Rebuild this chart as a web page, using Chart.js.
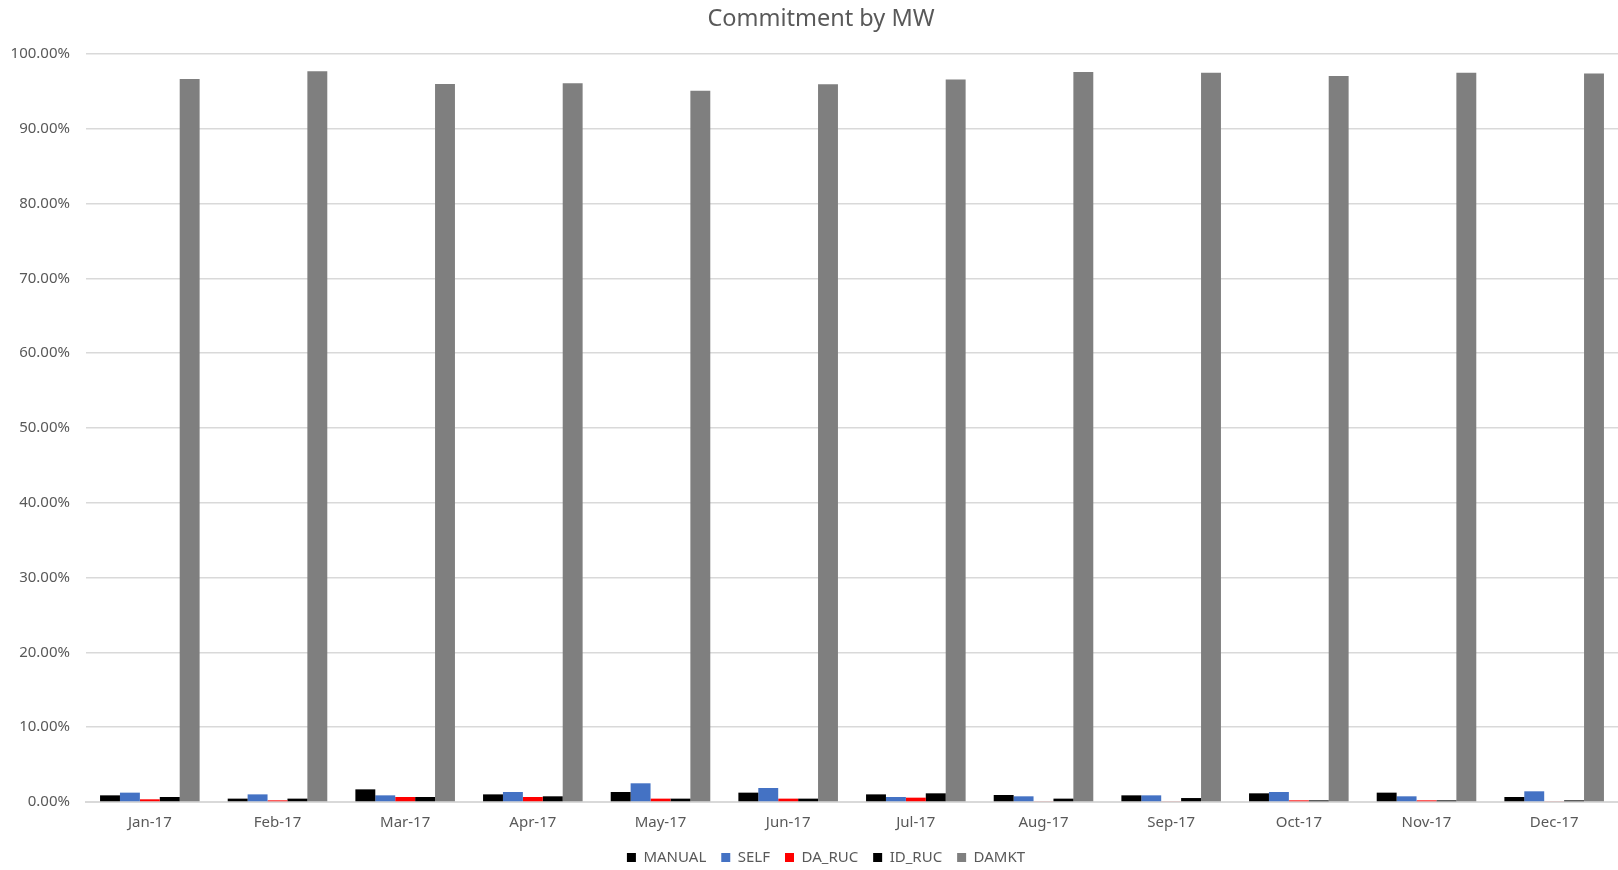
<!DOCTYPE html>
<html>
<head>
<meta charset="utf-8">
<script src="https://cdn.jsdelivr.net/npm/chart.js@4"></script>
<style>
html,body{margin:0;padding:0;background:#fff;}
#wrap{position:relative;width:1618px;height:870px;}
</style>
</head>
<body>
<div id="wrap"><canvas id="c"></canvas></div>
<script>
const months = ['Jan-17','Feb-17','Mar-17','Apr-17','May-17','Jun-17','Jul-17','Aug-17','Sep-17','Oct-17','Nov-17','Dec-17'];
const manual = [0.89,0.45,1.69,1.02,1.34,1.25,1.02,0.94,0.89,1.16,1.25,0.67];
const self   = [1.25,1.02,0.89,1.34,2.50,1.87,0.67,0.76,0.89,1.34,0.76,1.43];
const daRuc  = [0.36,0.22,0.67,0.67,0.45,0.45,0.58,0.09,0.09,0.22,0.22,0.09];
const idRuc  = [0.67,0.45,0.67,0.76,0.45,0.45,1.16,0.45,0.53,0.22,0.22,0.22];
const damkt  = [96.66,97.70,96.00,96.10,95.10,95.95,96.60,97.60,97.50,97.06,97.50,97.40];
const yTicks = [0,10,20,30,40,50,60,70,80,90,100];

const FONT = "'Noto Sans', 'Open Sans', sans-serif";
const TXT = '#595959';

function ds(label, data, color){
  return {label, data, backgroundColor: color, borderWidth: 0,
          categoryPercentage: 0.78, barPercentage: 1.0};
}

const shiftBlocks = {
  id: 'shiftBlocks',
  afterLayout(chart){
    if (chart.titleBlock) chart.titleBlock.left += 24;
    if (chart.legend) { chart.legend.left += 17; chart.legend.right += 17; }
  }
};

new Chart(document.getElementById('c'), {
  type: 'bar',
  data: {
    labels: months,
    datasets: [
      ds('MANUAL', manual, '#000000'),
      ds('SELF', self, '#4472C4'),
      ds('DA_RUC', daRuc, '#FF0000'),
      ds('ID_RUC', idRuc, '#000000'),
      ds('DAMKT', damkt, '#7F7F7F')
    ]
  },
  plugins: [shiftBlocks],
  options: {
    responsive: true,
    maintainAspectRatio: false,
    animation: false,
    layout: { padding: { left: 0, right: 0, top: 0, bottom: -5 } },
    plugins: {
      title: {
        display: true,
        text: 'Commitment by MW',
        color: TXT,
        font: { family: FONT, size: 23.5, weight: 'normal' },
        padding: { top: 5, bottom: 20.8 }
      },
      legend: {
        position: 'bottom',
        labels: {
          color: TXT,
          font: { family: FONT, size: 15 },
          boxWidth: 9,
          boxHeight: 9,
          padding: 15
        }
      },
      tooltip: { enabled: false }
    },
    scales: {
      x: {
        afterFit: (scale) => { scale.height = 33; },
        grid: { display: false, drawTicks: false },
        border: { display: true, color: '#d9d9d9', width: 2 },
        ticks: { color: TXT, font: { family: FONT, size: 15 }, padding: 12, maxRotation: 0 }
      },
      y: {
        min: 0,
        max: 100,
        afterBuildTicks: (scale) => { scale.ticks = yTicks.map(v => ({value: v})); },
        afterFit: (scale) => { scale.width = 86; },
        grid: { color: '#d9d9d9', lineWidth: 1.5, drawTicks: false },
        border: { display: false },
        ticks: {
          color: TXT,
          font: { family: FONT, size: 15 },
          padding: 16,
          callback: (v) => Number(v).toFixed(2) + '%'
        }
      }
    }
  }
});
</script>
</body>
</html>
